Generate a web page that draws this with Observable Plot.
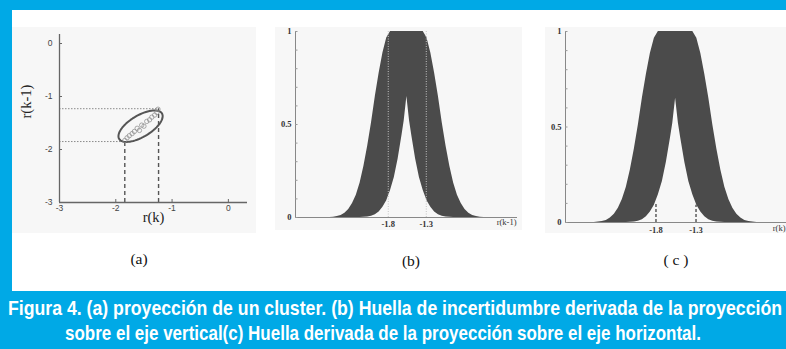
<!DOCTYPE html>
<html><head><meta charset="utf-8">
<script src="https://cdn.jsdelivr.net/npm/d3@7"></script>
<script src="https://cdn.jsdelivr.net/npm/@observablehq/plot@0.6"></script>
<style>
html,body{margin:0;padding:0;}
body{width:786px;height:349px;background:#00a9e6;position:relative;overflow:hidden;}
#white{position:absolute;left:12px;top:10px;width:774px;height:281px;background:#fff;}
.panel{position:absolute;}
.plab{position:absolute;font-family:"Liberation Serif",serif;font-size:15.5px;color:#111;transform:translate(-50%,-50%);white-space:pre;}
.cap{position:absolute;white-space:nowrap;color:#fff;font-family:"Liberation Sans Narrow","Liberation Sans",sans-serif;font-weight:bold;font-size:20.5px;line-height:25px;transform-origin:0 50%;}
</style></head><body>
<div id="white"></div>
<div id="pa" class="panel" style="left:12px;top:27px"></div>
<div id="pb" class="panel" style="left:275px;top:27px"></div>
<div id="pc" class="panel" style="left:545px;top:27px"></div>
<div class="plab" style="left:139px;top:259px">(a)</div>
<div class="plab" style="left:411px;top:261px">(b)</div>
<div class="plab" style="left:676px;top:260px">( c )</div>
<div id="cap1" class="cap" style="top:295px">Figura 4. (a) proyección de un cluster. (b) Huella de incertidumbre derivada de la proyección</div>
<div id="cap2" class="cap" style="top:320px">sobre el eje vertical(c) Huella derivada de la proyección sobre el eje horizontal.</div>
<script>
// ---- Panel (a): cluster and its projections ----
const aTicksX = [-3, -2, -1, 0];
const aTicksY = [0, -1, -2, -3];
const clusterX = [-1.84, -1.80, -1.76, -1.71, -1.67, -1.62, -1.58, -1.54, -1.50, -1.45, -1.40, -1.36, -1.31, -1.27, -1.25];
const clusterY = [-1.83, -1.78, -1.74, -1.70, -1.66, -1.60, -1.64, -1.54, -1.56, -1.47, -1.44, -1.39, -1.35, -1.30, -1.24];
const ellipseCenter = [-1.56, -1.56];
const ellipseAxes = [0.45, 0.2];
const ellipseAngle = 33;
const projX = [-1.84, -1.24];   // vertical dashed projections
const projY = [-1.85, -1.23];   // horizontal dotted projections

// ---- Panels (b),(c): footprint of uncertainty ----
const bandX = [-2.62,-2.57,-2.52,-2.47,-2.42,-2.37,-2.32,-2.27,-2.22,-2.17,-2.12,-2.07,-2.02,-1.97,-1.92,-1.87,-1.82,-1.77,
  -1.72,-1.67,-1.62,-1.59,-1.555,-1.52,-1.49,-1.44,-1.39,-1.34,
  -1.29,-1.24,-1.19,-1.14,-1.09,-1.04,-0.99,-0.94,-0.89,-0.84,-0.79,-0.74,-0.69,-0.64,-0.59,-0.54];
const bandUpper = [0,0,0.002,0.005,0.011,0.023,0.043,0.075,0.12,0.185,0.275,0.385,0.51,0.65,0.775,0.885,0.965,1,
  1,1,1,1,1,1,1,1,1,1,
  0.965,0.885,0.775,0.65,0.51,0.385,0.275,0.185,0.12,0.075,0.043,0.023,0.011,0.005,0.002,0];
const bandLower = [0,0,0,0,0,0,0,0,0,0,0.001,0.003,0.007,0.015,0.03,0.055,0.09,0.145,
  0.215,0.315,0.44,0.52,0.65,0.52,0.44,0.315,0.215,0.145,
  0.09,0.055,0.03,0.015,0.007,0.003,0.001,0,0,0,0,0,0,0,0,0];
const projTicks = [-1.8, -1.3];
const projTickLabels = ["-1.8", "-1.3"];
const dashTop = [0.1, 0.09];
const yMinorTicks = [0, 0.1, 0.2, 0.3, 0.4, 0.5, 0.6, 0.7, 0.8, 0.9, 1];
const yLabelTicks = [0, 0.5, 1];

const band = bandX.map((x, i) => ({x, upper: bandUpper[i], lower: bandLower[i]}));
const cluster = clusterX.map((x, i) => ({x, y: clusterY[i]}));
const ell = [];
{
  const th = ellipseAngle * Math.PI / 180;
  for (let k = 0; k <= 72; k++) {
    const t = k / 72 * 2 * Math.PI;
    ell.push({
      x: ellipseCenter[0] + ellipseAxes[0] * Math.cos(th) * Math.cos(t) - ellipseAxes[1] * Math.sin(th) * Math.sin(t),
      y: ellipseCenter[1] + ellipseAxes[0] * Math.sin(th) * Math.cos(t) + ellipseAxes[1] * Math.cos(th) * Math.sin(t)
    });
  }
}
const projPts = projX.map((x, i) => ({x, y: projY[i]}));

// Panel (a)
const plotA = Plot.plot({
  width: 244, height: 206, marginLeft: 47, marginRight: 9, marginTop: 7, marginBottom: 31,
  x: {domain: [-3, 0.34], label: null},
  y: {domain: [-3, 0.17], label: null},
  style: {background: "#f7f7f7", overflow: "visible", fontFamily: "Liberation Sans, Arial, sans-serif", fontSize: "8.5px", color: "#444"},
  marks: [
    Plot.ruleY(projPts, {y: "y", x1: -3, x2: "x", stroke: "#8a8a8a", strokeWidth: 1, strokeDasharray: "1.5,1.5"}),
    Plot.ruleX(projPts, {x: "x", y1: -3, y2: "y", stroke: "#555", strokeWidth: 1.4, strokeDasharray: "4,3"}),
    Plot.ruleX([-3], {stroke: "#666", strokeWidth: 1.3}),
    Plot.ruleY([-3], {stroke: "#666", strokeWidth: 1.3}),
    Plot.axisX({ticks: aTicksX, tickSize: -3, tickPadding: 5, tickFormat: d => String(d), stroke: "#666", label: null}),
    Plot.axisY({ticks: aTicksY, tickSize: -3, tickPadding: 10, tickFormat: d => String(d), stroke: "#666", label: null}),
    Plot.line(ell, {x: "x", y: "y", stroke: "#555", strokeWidth: 2}),
    Plot.dot(cluster, {x: "x", y: "y", r: 2.2, stroke: "#888", strokeWidth: 0.7, fill: "none"}),
    Plot.text(["r(k)"], {frameAnchor: "bottom", dy: 19, text: d => d, fontFamily: "Liberation Serif, serif", fontSize: 14.5, fill: "#222"}),
    Plot.text(["r(k-1)"], {frameAnchor: "left", dx: -33, rotate: -90, text: d => d, fontFamily: "Liberation Serif, serif", fontSize: 14.5, fill: "#222"})
  ]
});
document.getElementById("pa").appendChild(plotA);

function fouPlot(opts) {
  const {width, height, marginLeft, marginRight, marginTop, marginBottom, domain, xLabel, projMarks, labelDy} = opts;
  return Plot.plot({
    width, height, marginLeft, marginRight, marginTop, marginBottom,
    x: {domain, label: null},
    y: {domain: [0, 1], label: null},
    style: {background: "#f7f7f7", overflow: "visible", fontFamily: "Liberation Serif, serif", fontSize: "8.5px", color: "#333"},
    marks: [
      Plot.areaY(band, {x: "x", y1: "lower", y2: "upper", fill: "#4b4b4b"}),
      ...projMarks,
      Plot.ruleX([domain[0]], {stroke: "#888", strokeWidth: 1}),
      Plot.ruleY([0], {stroke: "#888", strokeWidth: 1}),
      Plot.axisY({ticks: yMinorTicks, tickSize: -2.5, tickFormat: () => "", stroke: "#999", label: null}),
      Plot.axisY({ticks: yLabelTicks, tickSize: 0, tickPadding: 4, tickFormat: d => String(d), label: null, fontWeight: "bold"}),
      Plot.axisX({ticks: projTicks, tickSize: 0, tickPadding: labelDy, tickFormat: (d, i) => projTickLabels[i], label: null, fontWeight: "bold"}),
      Plot.text([xLabel], {frameAnchor: "bottom-right", dy: labelDy + 4, dx: -1, textAnchor: "end", text: d => d, fill: "#333"})
    ]
  });
}

const plotB = fouPlot({
  width: 247, height: 203, marginLeft: 20, marginRight: 5, marginTop: 4, marginBottom: 13,
  domain: [-3.02, -0.1], xLabel: "r(k-1)", labelDy: 3,
  projMarks: [Plot.ruleX(projTicks, {x: d => d, y1: 0, y2: 1, stroke: "#c4c4c4", strokeWidth: 1, strokeDasharray: "1,1.5"})]
});
document.getElementById("pb").appendChild(plotB);

const plotC = fouPlot({
  width: 241, height: 206, marginLeft: 20, marginRight: 0, marginTop: 4, marginBottom: 11,
  domain: [-2.93, -0.17], xLabel: "r(k)", labelDy: 4,
  projMarks: [Plot.ruleX(projTicks.map((x, i) => ({x, top: dashTop[i]})), {x: "x", y1: 0, y2: "top", stroke: "#444", strokeWidth: 1.3, strokeDasharray: "3,2"})]
});
document.getElementById("pc").appendChild(plotC);

// caption fitting (condensed look)
function fit(id, left, width) {
  const el = document.getElementById(id);
  el.style.left = left + "px";
  const w = el.getBoundingClientRect().width;
  el.style.transform = `scaleX(${width / w})`;
}
fit("cap1", 8, 774);
fit("cap2", 65, 636);
</script>
</body></html>
